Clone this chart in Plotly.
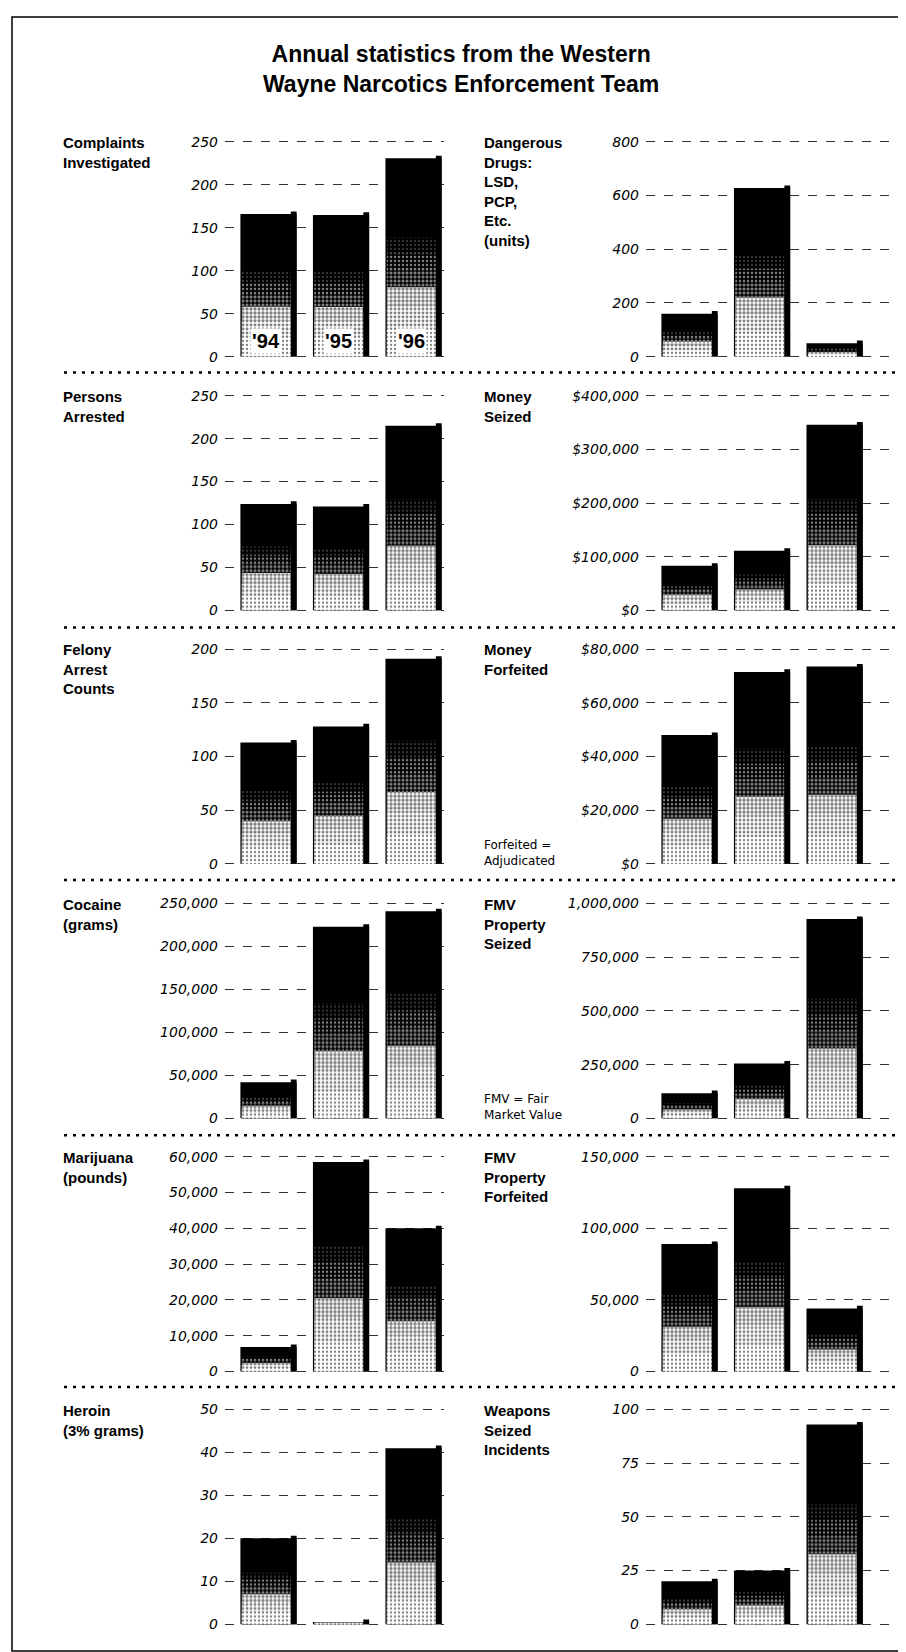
import plotly.graph_objects as go

W, H = 906, 1652

# ---------------- data ----------------
years = ["'94", "'95", "'96"]
x_idx = [0, 1, 2]

complaints = [166, 165, 231]
dangerous_drugs = [160, 628, 50]
persons_arrested = [124, 121, 215]
money_seized = [83000, 111000, 346000]
felony_counts = [113, 128, 191]
money_forfeited = [48000, 71500, 73500]
cocaine = [42000, 223000, 241000]
fmv_seized = [117000, 255000, 928000]
marijuana = [6800, 58500, 40000]
fmv_forfeited = [89000, 128000, 44000]
heroin = [20, 0.5, 41]
weapons = [20, 25, 93]

panel_titles = [
    "Complaints<br>Investigated",
    "Dangerous<br>Drugs:<br>LSD,<br>PCP,<br>Etc.<br>(units)",
    "Persons<br>Arrested",
    "Money<br>Seized",
    "Felony<br>Arrest<br>Counts",
    "Money<br>Forfeited",
    "Cocaine<br>(grams)",
    "FMV<br>Property<br>Seized",
    "Marijuana<br>(pounds)",
    "FMV<br>Property<br>Forfeited",
    "Heroin<br>(3% grams)",
    "Weapons<br>Seized<br>Incidents",
]
panel_values = [complaints, dangerous_drugs, persons_arrested, money_seized,
                felony_counts, money_forfeited, cocaine, fmv_seized,
                marijuana, fmv_forfeited, heroin, weapons]

tick_vals = [
    [0, 50, 100, 150, 200, 250],
    [0, 200, 400, 600, 800],
    [0, 50, 100, 150, 200, 250],
    [0, 100000, 200000, 300000, 400000],
    [0, 50, 100, 150, 200],
    [0, 20000, 40000, 60000, 80000],
    [0, 50000, 100000, 150000, 200000, 250000],
    [0, 250000, 500000, 750000, 1000000],
    [0, 10000, 20000, 30000, 40000, 50000, 60000],
    [0, 50000, 100000, 150000],
    [0, 10, 20, 30, 40, 50],
    [0, 25, 50, 75, 100],
]
tick_text = [
    ["0", "50", "100", "150", "200", "250"],
    ["0", "200", "400", "600", "800"],
    ["0", "50", "100", "150", "200", "250"],
    ["$0", "$100,000", "$200,000", "$300,000", "$400,000"],
    ["0", "50", "100", "150", "200"],
    ["$0", "$20,000", "$40,000", "$60,000", "$80,000"],
    ["0", "50,000", "100,000", "150,000", "200,000", "250,000"],
    ["0", "250,000", "500,000", "750,000", "1,000,000"],
    ["0", "10,000", "20,000", "30,000", "40,000", "50,000", "60,000"],
    ["0", "50,000", "100,000", "150,000"],
    ["0", "10", "20", "30", "40", "50"],
    ["0", "25", "50", "75", "100"],
]

title_lines = ["Annual statistics from the Western", "Wayne Narcotics Enforcement Team"]
notes = {5: "Forfeited =<br>Adjudicated", 7: "FMV = Fair<br>Market Value"}

# ---------------- layout geometry (pixels) ----------------
row_zero_px = [345.7, 601, 856, 1112, 1366.7, 1621]
panel_h_px = 216
pad_px = 3
sep_px = [361.7, 618.3, 872.3, 1129, 1382.3]
col_x_domain_px = [(217, 436), (638, 881)]
col_x_range = [(-0.6, 2.42), (-0.6, 2.75)]
label_x_px = [53, 474]

BAR_W = 0.775
STRIPE_W = 0.08
PEAK_FRAC = 0.012
LABEL_FONT = "Liberation Sans, Arial, Helvetica, sans-serif"
TICK_FONT = "DejaVu Sans, Verdana, sans-serif"


def px_x(p):
    return p / W


def px_y(p):
    return 1 - p / H


fig = go.Figure()
layout = dict(
    width=W, height=H, autosize=False,
    margin=dict(l=0, r=0, t=0, b=0),
    paper_bgcolor="white", plot_bgcolor="rgba(0,0,0,0)",
    showlegend=False, barmode="overlay",
)
annotations = []
shapes = []

# speckle layers (fraction of bar height, bgcolor, fgcolor, solidity): darker above, lighter below
speckle_layers = [
    (0.60, "black", "white", 0.12),
    (0.52, "black", "white", 0.30),
    (0.44, "black", "white", 0.48),
    (0.35, "white", "black", 0.55),
    (0.25, "white", "black", 0.40),
    (0.14, "white", "black", 0.26),
]

for i, vals in enumerate(panel_values):
    row, col = divmod(i, 2)
    n = i + 1
    xa = "x" if n == 1 else f"x{n}"
    ya = "y" if n == 1 else f"y{n}"
    zero_px = row_zero_px[row]
    top_px = zero_px - panel_h_px
    top_val = tick_vals[i][-1]
    pad_val = top_val * pad_px / panel_h_px

    # base black bar
    fig.add_trace(go.Bar(x=x_idx, y=vals, xaxis=xa, yaxis=ya,
                         width=BAR_W, offset=-BAR_W / 2,
                         marker=dict(color="black", line=dict(width=0)),
                         hoverinfo="skip"))
    # dithered lower part
    for frac, bg, fg, sol in speckle_layers:
        fig.add_trace(go.Bar(x=x_idx, y=[v * frac for v in vals], xaxis=xa, yaxis=ya,
                             width=BAR_W - STRIPE_W - 0.02, offset=-BAR_W / 2 + 0.02,
                             marker=dict(color=bg, line=dict(width=0),
                                         pattern=dict(shape=".", bgcolor=bg, fgcolor=fg,
                                                      solidity=sol, size=4)),
                             hoverinfo="skip"))
    # right shadow stripe with small raised corner
    fig.add_trace(go.Bar(x=x_idx, y=[v + top_val * PEAK_FRAC for v in vals],
                         xaxis=xa, yaxis=ya,
                         width=STRIPE_W, offset=BAR_W / 2 - STRIPE_W,
                         marker=dict(color="black", line=dict(width=0)),
                         hoverinfo="skip"))

    xd = col_x_domain_px[col]
    layout["xaxis" if n == 1 else f"xaxis{n}"] = dict(
        domain=[px_x(xd[0]), px_x(xd[1])], range=list(col_x_range[col]),
        anchor=ya, showgrid=False, zeroline=False, showticklabels=False,
        showline=False, ticks="", fixedrange=True)
    layout["yaxis" if n == 1 else f"yaxis{n}"] = dict(
        domain=[px_y(zero_px + pad_px), px_y(top_px - pad_px)],
        range=[-pad_val, top_val + pad_val],
        anchor=xa, showgrid=True, gridcolor="#333", gridwidth=1, griddash="dash",
        zeroline=False, showline=False, ticks="",
        tickmode="array", tickvals=tick_vals[i], ticktext=tick_text[i],
        tickfont=dict(family=TICK_FONT, size=14, color="black", style="italic"),
        ticklabelstandoff=6, fixedrange=True)

    annotations.append(dict(
        text=panel_titles[i], xref="paper", yref="paper",
        x=px_x(label_x_px[col]), y=px_y(top_px - 10),
        xanchor="left", yanchor="top", align="left", showarrow=False,
        font=dict(family=LABEL_FONT, size=15, color="black", weight="bold")))

    if i in notes:
        annotations.append(dict(
            text=notes[i], xref="paper", yref="paper",
            x=px_x(label_x_px[col]), y=px_y(zero_px + 6),
            xanchor="left", yanchor="bottom", align="left", showarrow=False,
            font=dict(family=TICK_FONT, size=12, color="black")))

# year labels inside the first panel's bars
for xi, yr in zip(x_idx, years):
    annotations.append(dict(
        text=yr, xref="x", yref="paper", x=xi - 0.03, y=px_y(row_zero_px[0] - 16),
        xanchor="center", yanchor="middle", showarrow=False,
        bgcolor="white", borderpad=1,
        font=dict(family=LABEL_FONT, size=20, color="black", weight="bold")))

# title
annotations.append(dict(
    text="<br>".join(title_lines), xref="paper", yref="paper",
    x=0.5, y=px_y(26), xanchor="center", yanchor="top", showarrow=False,
    align="center",
    font=dict(family=LABEL_FONT, size=23, color="black", weight="bold")))

# dotted row separators
for s in sep_px:
    shapes.append(dict(type="line", xref="paper", yref="paper",
                       x0=px_x(56), x1=px_x(892), y0=px_y(s), y1=px_y(s),
                       line=dict(color="black", width=2.5, dash="3px,6px")))
# outer border
shapes.append(dict(type="rect", xref="paper", yref="paper",
                   x0=px_x(4), x1=px_x(902), y0=px_y(1648), y1=px_y(4),
                   line=dict(color="black", width=1.5)))

layout["annotations"] = annotations
layout["shapes"] = shapes
fig.update_layout(**layout)
fig.write_html("out.html")
